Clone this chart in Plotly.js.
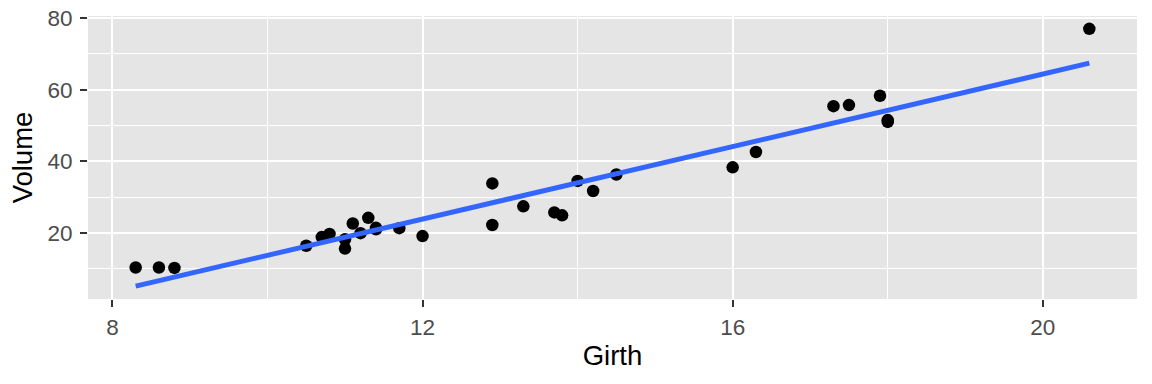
<!DOCTYPE html>
<html>
<head>
<meta charset="utf-8">
<script src="https://cdn.plot.ly/plotly-3.0.1.min.js"></script>
<style>html,body{margin:0;padding:0;background:#fff;}#chart{width:1152px;height:384px;}</style>
</head>
<body>
<div id="chart"></div>
<script>
// trees dataset: Girth vs Volume
const girth = [8.3, 8.6, 8.8, 10.5, 10.7, 10.8, 11.0, 11.0, 11.1, 11.2, 11.3, 11.4, 11.4, 11.7, 12.0, 12.9, 12.9, 13.3, 13.7, 13.8, 14.0, 14.2, 14.5, 16.0, 16.3, 17.3, 17.5, 17.9, 18.0, 18.0, 20.6];
const volume = [10.3, 10.3, 10.2, 16.4, 18.8, 19.7, 15.6, 18.2, 22.6, 19.9, 24.2, 21.0, 21.4, 21.3, 19.1, 22.2, 33.8, 27.4, 25.7, 24.9, 34.5, 31.7, 36.3, 38.3, 42.6, 55.4, 55.7, 58.3, 51.5, 51.0, 77.0];
const xTicks = [8, 12, 16, 20];
const yTicks = [20, 40, 60, 80];
const xMinor = [10, 14, 18];
const yMinor = [10, 30, 50, 70];

// least-squares fit (geom_smooth method = "lm", se = FALSE)
const n = girth.length;
const mx = girth.reduce((a,b)=>a+b,0)/n;
const my = volume.reduce((a,b)=>a+b,0)/n;
let sxy = 0, sxx = 0;
for (let i=0;i<n;i++){ sxy += (girth[i]-mx)*(volume[i]-my); sxx += (girth[i]-mx)**2; }
const slope = sxy/sxx, intercept = my - slope*mx;
const fitX = [Math.min(...girth), Math.max(...girth)];
const fitY = fitX.map(x => intercept + slope*x);

// ggplot-like 5% expansion
const allY = volume.concat(fitY);
const xr = [Math.min(...girth), Math.max(...girth)];
const yr = [Math.min(...allY), Math.max(...allY)];
const xpad = (xr[1]-xr[0])*0.05, ypad = (yr[1]-yr[0])*0.05;

const font = "Liberation Sans, Arial, sans-serif";
const traces = [
  {x: girth, y: volume, type: 'scatter', mode: 'markers',
   marker: {color: '#000000', size: 12.5}, hoverinfo: 'x+y'},
  {x: fitX, y: fitY, type: 'scatter', mode: 'lines',
   line: {color: '#3366FF', width: 5}, hoverinfo: 'skip'}
];
const layout = {
  width: 1152, height: 384,
  margin: {l: 88, r: 15, t: 16, b: 85},
  paper_bgcolor: '#ffffff', plot_bgcolor: '#E5E5E5',
  showlegend: false,
  font: {family: font, color: '#4D4D4D'},
  xaxis: {
    range: [xr[0]-xpad, xr[1]+xpad],
    tickmode: 'array', tickvals: xTicks, ticktext: xTicks.map(String),
    ticks: 'outside', ticklen: 7, tickwidth: 2.2, tickcolor: '#333333',
    tickfont: {size: 22.5, color: '#4D4D4D', family: font},
    ticklabelstandoff: 1,
    showgrid: true, gridcolor: '#ffffff', gridwidth: 2.2,
    minor: {tickmode: 'array', tickvals: xMinor, showgrid: true, gridcolor: '#ffffff', gridwidth: 1.1, ticks: ''},
    zeroline: false, showline: false,
    title: {text: 'Girth', font: {size: 27.5, color: '#000000', family: font}, standoff: 6}
  },
  yaxis: {
    range: [yr[0]-ypad, yr[1]+ypad],
    tickmode: 'array', tickvals: yTicks, ticktext: yTicks.map(String),
    ticks: 'outside', ticklen: 7, tickwidth: 2.2, tickcolor: '#333333',
    tickfont: {size: 22.5, color: '#4D4D4D', family: font},
    ticklabelstandoff: 3,
    showgrid: true, gridcolor: '#ffffff', gridwidth: 2.2,
    minor: {tickmode: 'array', tickvals: yMinor, showgrid: true, gridcolor: '#ffffff', gridwidth: 1.1, ticks: ''},
    zeroline: false, showline: false,
    title: {text: 'Volume', font: {size: 27.5, color: '#000000', family: font}, standoff: 6}
  }
};
Plotly.newPlot('chart', traces, layout, {displayModeBar: false});
</script>
</body>
</html>
